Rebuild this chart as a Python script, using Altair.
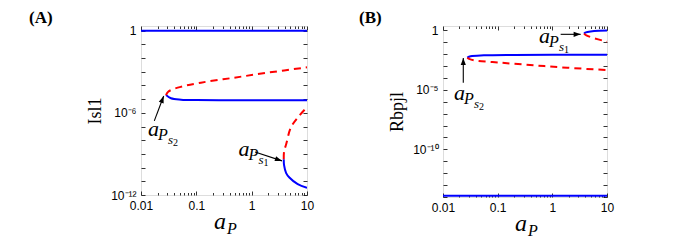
import altair as alt
import pandas as pd

# ---------------- data ----------------
# Panel A : Isl1 vs a_P
A_blue_top_x = [0.01, 10]
A_blue_top_y = [1, 1]
A_blue_mid_x = [0.0283, 0.0348, 0.053, 0.1, 1, 10]
A_blue_mid_y = [2.0e-5, 1.17e-5, 9.2e-6, 8.5e-6, 8.3e-6, 8.3e-6]
A_blue_low_x = [3.8, 3.85, 4.2, 4.8, 6.8, 10]
A_blue_low_y = [4.1e-10, 1.5e-10, 4e-11, 1.9e-11, 6.2e-12, 3.3e-12]
A_red_up_x = [0.0283, 0.031, 0.046, 0.121, 0.485, 1.95, 10]
A_red_up_y = [2.0e-5, 3.5e-5, 6.9e-5, 1.6e-4, 3.7e-4, 8.6e-4, 2.1e-3]
A_red_low_x = [3.8, 3.85, 4.2, 5.1, 6.8, 9.2, 10]
A_red_low_y = [4.1e-10, 1.5e-9, 5.1e-9, 8.3e-8, 4.5e-7, 1.8e-6, 2.5e-6]

# Panel B : Rbpjl vs a_P
B_blue_bot_x = [0.01, 10]
B_blue_bot_y = [1.3e-14, 1.3e-14]
B_blue_mid_x = [0.0278, 0.032, 0.056, 0.2, 1, 10]
B_blue_mid_y = [5e-3, 6.6e-3, 7.9e-3, 8.6e-3, 8.9e-3, 9e-3]
B_blue_up_x = [3.8, 4.0, 4.4, 5.8, 10]
B_blue_up_y = [0.52, 0.63, 0.72, 0.87, 0.95]
B_red_mid_x = [0.0278, 0.03, 0.037, 0.114, 0.46, 1.88, 10]
B_red_mid_y = [5e-3, 4e-3, 3.0e-3, 1.9e-3, 1.15e-3, 7.2e-4, 4.6e-4]
B_red_up_x = [3.8, 4.2, 5.0, 10]
B_red_up_y = [0.52, 0.38, 0.27, 0.11]

# annotations: text anchor (x, y), arrow tail (x, y) -> tip (x2, y2), arrowhead angle
A_ann_text_x = [0.0134, 0.578]
A_ann_text_y = [2.1e-8, 6.6e-10]
A_ann_idx = ["2", "1"]
A_arrow_x = [0.0174, 1.15]
A_arrow_y = [2.6e-7, 1.4e-9]
A_arrow_x2 = [0.0257, 3.53]
A_arrow_y2 = [1.7e-5, 3.1e-10]
A_arrow_ang = [20.6, 108.4]

B_ann_text_x = [0.0159, 0.57]
B_ann_text_y = [1.4e-6, 0.094]
B_ann_idx = ["2", "1"]
B_arrow_x = [0.0235, 1.42]
B_arrow_y = [4e-5, 0.46]
B_arrow_x2 = [0.0235, 3.3]
B_arrow_y2 = [4.7e-3, 0.46]
B_arrow_ang = [0, 90]

X_MAJOR = [0.01, 0.1, 1, 10]
X_MINOR = [m * 10.0 ** e for e in (-2, -1, 0) for m in range(2, 10)]

SUP = str.maketrans("-0123456789", "⁻⁰¹²³⁴⁵⁶⁷⁸⁹")


def seg_df(segs):
    rows = []
    for sid, (xs, ys) in enumerate(segs):
        for i, (x, y) in enumerate(zip(xs, ys)):
            rows.append({"seg": sid, "i": i, "x": x, "y": y})
    return pd.DataFrame(rows)


def ylabel_expr(exps):
    e = "round(log(datum.value)/LN10)"
    expr = "''"
    for k in exps:
        lab = "1" if k == 0 else "10" + str(k).translate(SUP)
        expr = f"{e} == {k} ? '{lab}' : ({expr})"
    return expr


def panel(blue, red, ann, ymin, ymax, yexp_min, label_exps, ytitle, plabel,
          plabel_dx, w, h):
    xs = alt.Scale(type="log", domain=[0.01, 10], nice=False)
    ys = alt.Scale(type="log", domain=[ymin, ymax], nice=False)
    yvals = [10.0 ** k for k in range(yexp_min, 1)]
    common = dict(domain=False, grid=False, tickColor="black", tickWidth=0.8,
                  labelColor="black", labelFont="Liberation Sans",
                  labelFontSize=12, labelOverlap=False, labelFlush=False)
    xb = alt.Axis(orient="bottom", values=X_MAJOR, tickSize=4, offset=-4,
                  labelPadding=5, format="~g", title=None, **common)
    xbm = alt.Axis(orient="bottom", values=X_MINOR, tickSize=2.5, offset=-2.5,
                   labels=False, title=None, **common)
    xt = alt.Axis(orient="top", values=X_MAJOR, tickSize=4, offset=-4,
                  labels=False, title=None, **common)
    xtm = alt.Axis(orient="top", values=X_MINOR, tickSize=2.5, offset=-2.5,
                   labels=False, title=None, **common)
    yl = alt.Axis(orient="left", values=yvals, tickSize=4, offset=-4,
                  labelPadding=5, labelExpr=ylabel_expr(label_exps),
                  title=ytitle, titleFont="Liberation Serif", titleFontSize=18,
                  titleFontWeight="normal", titleColor="black", titlePadding=6,
                  **common)
    yr = alt.Axis(orient="right", values=yvals, tickSize=4, offset=-4,
                  labels=False, title=None, **common)

    bdf = seg_df(blue)
    rdf = seg_df(red)
    base_b = alt.Chart(bdf)
    blue_l = base_b.mark_line(color="#0000ff", strokeWidth=2,
                              interpolate="catmull-rom", clip=True).encode(
        x=alt.X("x:Q", scale=xs, axis=xb),
        y=alt.Y("y:Q", scale=ys, axis=yl),
        detail="seg:N", order="i:Q")
    red_l = alt.Chart(rdf).mark_line(color="#ff0000", strokeWidth=2,
                                     strokeDash=[7, 5],
                                     interpolate="catmull-rom").encode(
        x=alt.X("x:Q", scale=xs, axis=xt),
        y=alt.Y("y:Q", scale=ys, axis=yr),
        detail="seg:N", order="i:Q")
    inv1 = base_b.mark_point(opacity=0).encode(
        x=alt.X("x:Q", scale=xs, axis=xbm), y=alt.Y("y:Q", scale=ys, axis=None))
    inv2 = base_b.mark_point(opacity=0).encode(
        x=alt.X("x:Q", scale=xs, axis=xtm), y=alt.Y("y:Q", scale=ys, axis=None))

    tx, ty, idx, ax, ay, ax2, ay2, ang = ann
    adf = pd.DataFrame({"x": ax, "y": ay, "x2": ax2, "y2": ay2, "ang": ang})
    arrows = alt.Chart(adf).mark_rule(color="black", strokeWidth=1.1).encode(
        x=alt.X("x:Q", scale=xs, axis=None), y=alt.Y("y:Q", scale=ys, axis=None),
        x2="x2:Q", y2="y2:Q")
    heads = alt.Chart(adf).mark_point(
        shape="M0,0L-0.8,2.2L0.8,2.2Z", filled=True, color="black", opacity=1,
        size=41, strokeWidth=0).encode(
        x=alt.X("x2:Q", scale=xs, axis=None), y=alt.Y("y2:Q", scale=ys, axis=None),
        angle=alt.Angle("ang:Q", scale=None))

    tdf = pd.DataFrame({"x": tx, "y": ty, "idx": idx})
    tb = alt.Chart(tdf)
    enc = dict(x=alt.X("x:Q", scale=xs, axis=None),
               y=alt.Y("y:Q", scale=ys, axis=None))
    t_a = tb.mark_text(text="a", font="Liberation Serif", fontStyle="italic",
                       fontSize=22, align="left", baseline="alphabetic",
                       color="black").encode(**enc)
    t_p = tb.mark_text(text="P", font="Liberation Serif", fontStyle="italic",
                       fontSize=16, align="left", baseline="alphabetic", dx=10,
                       dy=4, color="black").encode(**enc)
    t_s = tb.mark_text(text="s", font="Liberation Serif", fontStyle="italic",
                       fontSize=13, align="left", baseline="alphabetic", dx=20,
                       dy=8, color="black").encode(**enc)
    t_n = tb.mark_text(font="Liberation Serif", fontSize=10, align="left",
                       baseline="alphabetic", dx=25, dy=10,
                       color="black").encode(text="idx:N", **enc)

    one = alt.Chart(pd.DataFrame({"k": [0]}))
    xt_a = one.mark_text(text="a", font="Liberation Serif", fontStyle="italic",
                         fontSize=24, align="left", baseline="alphabetic",
                         color="black").encode(x=alt.value(w / 2 - 10),
                                               y=alt.value(h + 34))
    xt_p = one.mark_text(text="P", font="Liberation Serif", fontStyle="italic",
                         fontSize=16, align="left", baseline="alphabetic",
                         color="black").encode(x=alt.value(w / 2 + 3),
                                               y=alt.value(h + 39))
    plab = one.mark_text(text=plabel, font="Liberation Serif", fontWeight="bold",
                         fontSize=17, align="left", baseline="alphabetic",
                         color="black").encode(x=alt.value(plabel_dx),
                                               y=alt.value(-3))

    return alt.layer(blue_l, red_l, inv1, inv2, arrows, heads, t_a, t_p, t_s,
                     t_n, xt_a, xt_p, plab).resolve_axis(
        x="independent", y="independent").properties(width=w, height=h)


pA = panel([(A_blue_top_x, A_blue_top_y), (A_blue_mid_x, A_blue_mid_y),
            (A_blue_low_x, A_blue_low_y)],
           [(A_red_up_x, A_red_up_y), (A_red_low_x, A_red_low_y)],
           (A_ann_text_x, A_ann_text_y, A_ann_idx, A_arrow_x, A_arrow_y,
            A_arrow_x2, A_arrow_y2, A_arrow_ang),
           1e-12, 2.2, -12, [0, -6, -12], "Isl1", "(A)", -112, 166, 169)

pB = panel([(B_blue_bot_x, B_blue_bot_y), (B_blue_mid_x, B_blue_mid_y),
            (B_blue_up_x, B_blue_up_y)],
           [(B_red_mid_x, B_red_mid_y), (B_red_up_x, B_red_up_y)],
           (B_ann_text_x, B_ann_text_y, B_ann_idx, B_arrow_x, B_arrow_y,
            B_arrow_x2, B_arrow_y2, B_arrow_ang),
           1e-14, 2.3, -14, [0, -5, -10], "Rbpjl", "(B)", -84, 164, 171)

chart = alt.hconcat(pA, pB, spacing=43).properties(
    padding={"left": 20, "top": 0, "right": 5, "bottom": 5}
).configure_view(stroke="black", strokeWidth=1).configure(background="white")

chart.save("out.html", embed_options={"renderer": "svg", "actions": False})
